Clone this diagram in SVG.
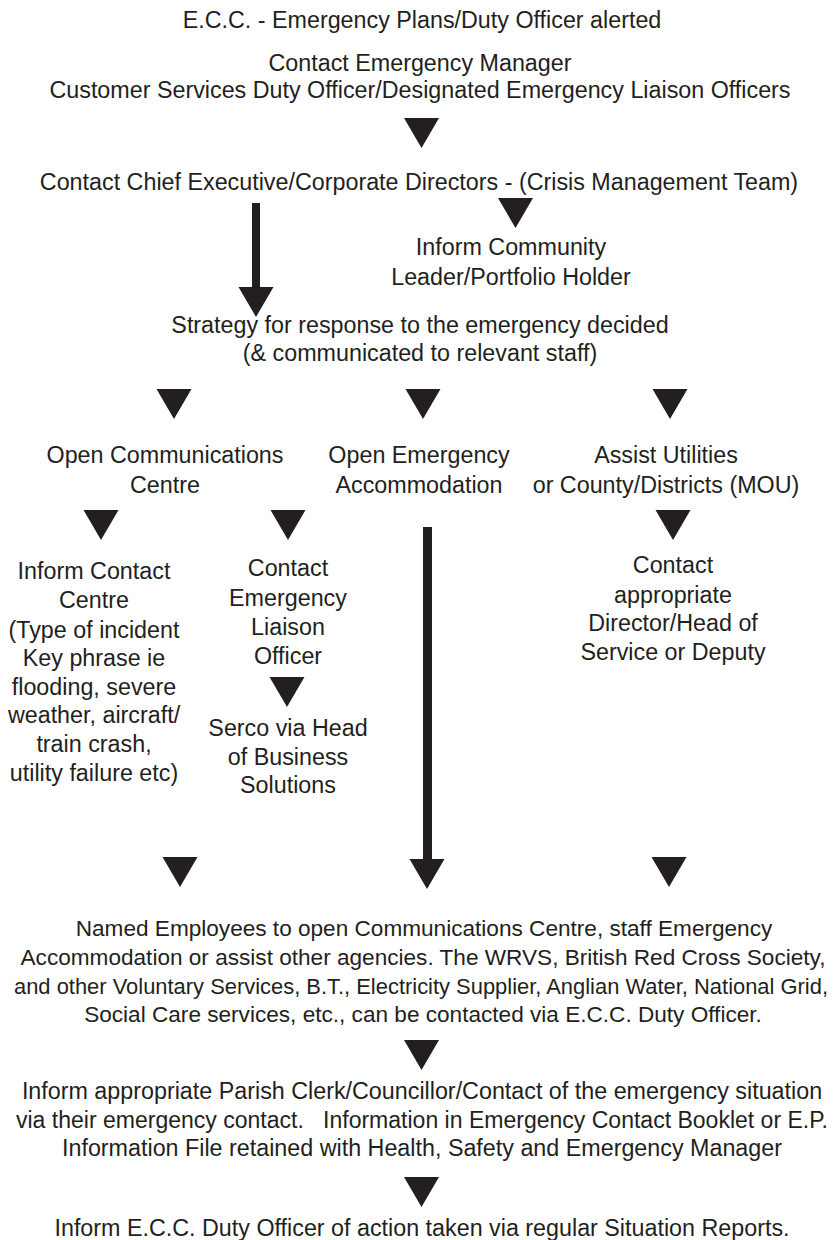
<svg xmlns="http://www.w3.org/2000/svg" width="839" height="1240" viewBox="0 0 839 1240">
<style>
text{font-family:"Liberation Sans",Arial,sans-serif;font-size:23.3px;fill:#231f20;text-anchor:middle}
#n13 text{font-size:22.6px}
#n13 text.wide{font-size:21.8px}
.tri{fill:#231f20}
.shaft{fill:#231f20}
</style>
<defs>
<polygon id="tri" class="tri" points="-17.5,0 17.5,0 0,30"/>
</defs>
<rect width="839" height="1240" fill="#fff"/>
<g id="n1"><text x="422" y="28">E.C.C. - Emergency Plans/Duty Officer alerted</text></g>
<g id="n2"><text x="420" y="71">Contact Emergency Manager</text><text x="420" y="98">Customer Services Duty Officer/Designated Emergency Liaison Officers</text></g>
<g id="n3"><text x="419" y="190">Contact Chief Executive/Corporate Directors - (Crisis Management Team)</text></g>
<g id="n4"><text x="511" y="255">Inform Community</text><text x="511" y="285">Leader/Portfolio Holder</text></g>
<g id="n5"><text x="420" y="333">Strategy for response to the emergency decided</text><text x="420" y="361">(&amp; communicated to relevant staff)</text></g>
<g id="n6"><text x="165" y="463">Open Communications</text><text x="165" y="493">Centre</text></g>
<g id="n7"><text x="419" y="463">Open Emergency</text><text x="419" y="493">Accommodation</text></g>
<g id="n8"><text x="666" y="463">Assist Utilities</text><text x="666" y="493">or County/Districts (MOU)</text></g>
<g id="n9"><text x="94" y="579">Inform Contact</text><text x="94" y="608">Centre</text><text x="94" y="638">(Type of incident</text><text x="94" y="666">Key phrase ie</text><text x="94" y="695">flooding, severe</text><text x="94" y="723">weather, aircraft/</text><text x="94" y="752">train crash,</text><text x="94" y="781">utility failure etc)</text></g>
<g id="n10"><text x="288" y="576">Contact</text><text x="288" y="606">Emergency</text><text x="288" y="635">Liaison</text><text x="288" y="664">Officer</text></g>
<g id="n11"><text x="288" y="736">Serco via Head</text><text x="288" y="765">of Business</text><text x="288" y="793">Solutions</text></g>
<g id="n12"><text x="673" y="573">Contact</text><text x="673" y="603">appropriate</text><text x="673" y="631">Director/Head of</text><text x="673" y="660">Service or Deputy</text></g>
<g id="n13"><text x="424" y="936">Named Employees to open Communications Centre, staff Emergency</text><text x="423" y="965">Accommodation or assist other agencies. The WRVS, British Red Cross Society,</text><text class="wide" x="421" y="994" textLength="814" lengthAdjust="spacingAndGlyphs">and other Voluntary Services, B.T., Electricity Supplier, Anglian Water, National Grid,</text><text x="423" y="1022">Social Care services, etc., can be contacted via E.C.C. Duty Officer.</text></g>
<g id="n14"><text x="422" y="1099">Inform appropriate Parish Clerk/Councillor/Contact of the emergency situation</text><text x="422" y="1128" xml:space="preserve" textLength="812" lengthAdjust="spacingAndGlyphs">via their emergency contact.   Information in Emergency Contact Booklet or E.P.</text><text x="422" y="1156">Information File retained with Health, Safety and Emergency Manager</text></g>
<g id="n15"><text x="422" y="1236">Inform E.C.C. Duty Officer of action taken via regular Situation Reports.</text></g>
<g id="connectors">
<use href="#tri" x="421.5" y="118"/>
<rect class="shaft" x="252" y="203" width="8" height="85"/>
<use href="#tri" x="256" y="287"/>
<use href="#tri" x="515.5" y="198"/>
<use href="#tri" x="174" y="389"/>
<use href="#tri" x="423" y="389"/>
<use href="#tri" x="670" y="389"/>
<use href="#tri" x="101" y="510"/>
<use href="#tri" x="288" y="510"/>
<use href="#tri" x="673" y="510"/>
<use href="#tri" x="287" y="677"/>
<rect class="shaft" x="423" y="527" width="9" height="333"/>
<use href="#tri" x="427" y="859"/>
<use href="#tri" x="180" y="857"/>
<use href="#tri" x="669" y="857"/>
<use href="#tri" x="421.5" y="1040"/>
<use href="#tri" x="421.5" y="1177"/>
</g>
</svg>
